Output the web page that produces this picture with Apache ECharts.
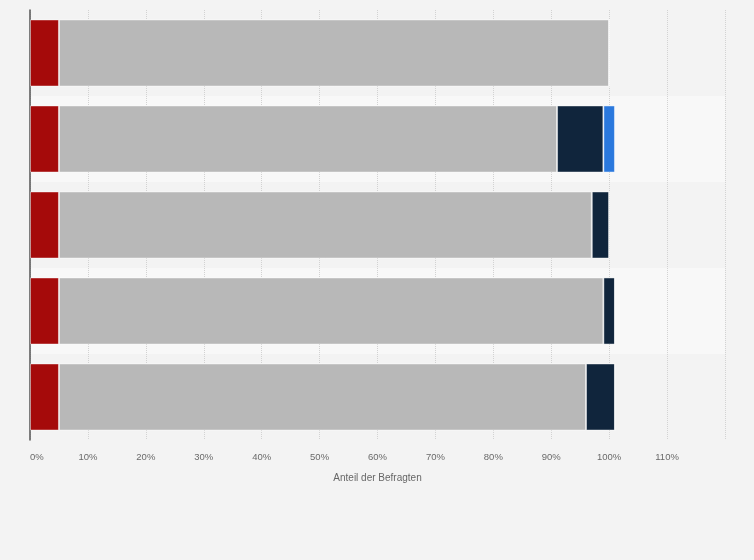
<!DOCTYPE html>
<html>
<head>
<meta charset="utf-8">
<script src="https://cdn.jsdelivr.net/npm/echarts@6/dist/echarts.min.js"></script>
<style>
html,body{margin:0;padding:0;background:#f3f3f3;}
#chart{width:754px;height:560px;}
</style>
</head>
<body>
<div id="chart"></div>
<script>
const categories = ['A', 'B', 'C', 'D', 'E'];
const seriesRed = [5, 5, 5, 5, 5];
const seriesGray = [95, 86, 92, 94, 91];
const seriesNavy = [0, 8, 3, 2, 5];
const seriesBlue = [0, 2, 0, 0, 0];
const xTicks = [0, 10, 20, 30, 40, 50, 60, 70, 80, 90, 100, 110, 120];

const chart = echarts.init(document.getElementById('chart'));
const border = {borderColor: 'rgba(255,255,255,0.45)', borderWidth: 1};
function mk(name, data, color) {
  return {
    name: name, type: 'bar', stack: 'total', data: data,
    barCategoryGap: '22%',
    itemStyle: Object.assign({color: color}, border),
    emphasis: {disabled: true}
  };
}
chart.setOption({
  backgroundColor: '#f3f3f3',
  animation: false,
  grid: {left: 30, right: 29, top: 10, bottom: 120},
  xAxis: {
    type: 'value', min: 0, max: 120, interval: 10,
    name: 'Anteil der Befragten', nameLocation: 'middle', nameGap: 33,
    nameTextStyle: {color: '#666', fontSize: 10, fontFamily: 'Arial, Liberation Sans, sans-serif'},
    axisLine: {show: false}, axisTick: {show: false},
    axisLabel: {
      color: '#6a6a6a', fontSize: 9.5, margin: 12, fontFamily: 'Arial, Liberation Sans, sans-serif',
      alignMinLabel: 'left',
      formatter: function (v) { return (v === 120 || xTicks.indexOf(v) < 0) ? '' : v + '%'; }
    },
    splitLine: {show: true, lineStyle: {color: '#d2d2d2', type: 'dotted', width: 1}}
  },
  yAxis: {
    type: 'category', data: categories, inverse: true,
    axisLabel: {show: false}, axisTick: {show: false},
    axisLine: {show: true, lineStyle: {color: '#555', width: 1.5}},
    splitArea: {show: true, areaStyle: {color: ['rgba(0,0,0,0)', '#f8f8f8']}}
  },
  series: [
    mk('red', seriesRed, '#a50a0a'),
    mk('gray', seriesGray, '#b8b8b8'),
    mk('navy', seriesNavy, '#10253c'),
    mk('blue', seriesBlue, '#2a78dd')
  ]
});
</script>
</body>
</html>
